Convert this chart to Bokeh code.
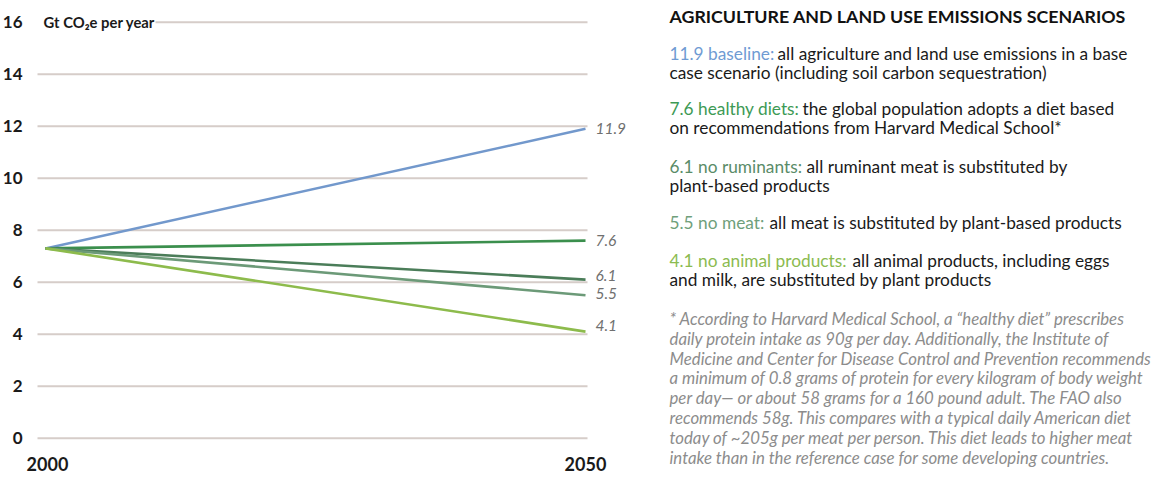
from bokeh.plotting import figure
from bokeh.models import Range1d
from bokeh.embed import file_html
from bokeh.resources import INLINE
from bokeh.core.properties import value

# ---------------- data ----------------
years = [2000, 2050]
start_value = 7.3
scenario_names = ["baseline", "healthy diets", "no ruminants", "no meat", "no animal products"]
end_values = [11.9, 7.6, 6.1, 5.5, 4.1]
line_colors = ["#7298cc", "#3b8f4d", "#4b7d59", "#6c9a78", "#8dbb4c"]
text_colors = ["#6f9bd3", "#3d9a55", "#5a8c68", "#6fa07b", "#8bbb50"]
descriptions = [
    ["all agriculture and land use emissions in a base",
     "case scenario (including soil carbon sequestration)"],
    ["the global population adopts a diet based",
     "on recommendations from Harvard Medical School*"],
    ["all ruminant meat is substituted by",
     "plant-based products"],
    ["all meat is substituted by plant-based products"],
    ["all animal products, including eggs",
     "and milk, are substituted by plant products"],
]
y_ticks = [0, 2, 4, 6, 8, 10, 12, 14, 16]
x_ticks = [2000, 2050]
y_title = "Gt CO\u2082e per year"
panel_title = "AGRICULTURE AND LAND USE EMISSIONS SCENARIOS"
footnote_lines = [
    "* According to Harvard Medical School, a \u201chealthy diet\u201d prescribes",
    "daily protein intake as 90g per day. Additionally, the Institute of",
    "Medicine and Center for Disease Control and Prevention recommends",
    "a minimum of 0.8 grams of protein for every kilogram of body weight",
    "per day\u2014 or about 58 grams for a 160 pound adult. The FAO also",
    "recommends 58g. This compares with a typical daily American diet",
    "today of ~205g per meat per person. This diet leads to higher meat",
    "intake than in the reference case for some developing countries.",
]

# ---------------- layout / style ----------------
FONT = "Lato"
W, H = 1154, 476
# chart scale: 2000 -> x 45, 10.8 px/yr ; 0 -> y 437.7, 26 px/unit
PX_YR, PX_UNIT = 10.8, 26.0
x0_pix, y0_pix = 45.0, 437.7
x_start = 2000 - x0_pix / PX_YR
x_end = 2000 + (W - x0_pix) / PX_YR
y_end = y0_pix / PX_UNIT
y_start = -(H - y0_pix) / PX_UNIT

grid_left = 2000 - 8 / PX_YR
grid_right = 2050 + 2 / PX_YR
title_gap_end = 2000 + 110 / PX_YR
label_offsets = [0, 0, -4, -2, -6]
entry_y = [53, 108, 166, 222, 260]
desc_x = [777, 802, 806, 769, 852]
line_gap = 18.5
foot_y0, foot_gap = 318, 19.8

p = figure(width=W, height=H,
           x_range=Range1d(x_start, x_end), y_range=Range1d(y_start, y_end),
           x_axis_type=None, y_axis_type=None,
           output_backend="svg", toolbar_location=None,
           min_border_left=0, min_border_right=0,
           min_border_top=0, min_border_bottom=0)
p.outline_line_color = None
p.background_fill_color = "white"
p.grid.visible = False
p.extra_x_ranges = {"px": Range1d(0, W)}
p.extra_y_ranges = {"py": Range1d(H, 0)}

# grid lines at the tick values
gx0 = [grid_left if t < y_ticks[-1] else title_gap_end for t in y_ticks]
p.segment(x0=gx0, y0=y_ticks, x1=[grid_right] * len(y_ticks), y1=y_ticks,
          line_color="#d6cdc9", line_width=2)

# tick labels
p.text(x=[x_ticks[0]] * len(y_ticks), y=y_ticks, text=[str(t) for t in y_ticks],
       x_offset=-23, text_align="right", text_baseline="middle",
       text_font=value(FONT), text_font_style="bold", text_font_size="17px",
       text_color="#1a1a1a")
p.text(x=x_ticks, y=[y_ticks[0]] * len(x_ticks), text=[str(t) for t in x_ticks],
       x_offset=[2, 0], y_offset=26, text_align="center", text_baseline="middle",
       text_font=value(FONT), text_font_style="bold", text_font_size="18px",
       text_color="#1a1a1a")
p.text(x=[x_ticks[0]], y=[y_ticks[-1]], text=[y_title], x_offset=-2,
       text_baseline="middle", text_font=value(FONT), text_font_style="bold",
       text_font_size="14.8px", text_color="#1a1a1a")

# scenario lines and end labels
for i, name in enumerate(scenario_names):
    p.line(years, [start_value, end_values[i]], line_color=line_colors[i],
           line_width=2.6)
p.text(x=[years[1]] * len(end_values), y=end_values,
       text=[f"{v}" for v in end_values], x_offset=10, y_offset=label_offsets,
       text_baseline="middle", text_font=value(FONT), text_font_style="italic",
       text_font_size="15.5px", text_color="#707070")

# ---------------- text panel (pixel coordinates) ----------------
kw = dict(x_range_name="px", y_range_name="py", text_baseline="middle",
          text_font=value(FONT))
p.text(x=[669], y=[15], text=[panel_title], text_font_style="bold",
       text_font_size="17.8px", text_color="#111111", **kw)

for i, name in enumerate(scenario_names):
    y0 = entry_y[i]
    p.text(x=[669], y=[y0], text=[f"{end_values[i]} {name}:"],
           text_font_size="17.3px", text_color=text_colors[i], **kw)
    p.text(x=[desc_x[i]], y=[y0], text=[descriptions[i][0]],
           text_font_size="17.3px", text_color="#1a1a1a", **kw)
    for k, extra in enumerate(descriptions[i][1:]):
        p.text(x=[669], y=[y0 + line_gap * (k + 1)], text=[extra],
               text_font_size="17.3px", text_color="#1a1a1a", **kw)

p.text(x=[669] * len(footnote_lines),
       y=[foot_y0 + foot_gap * k for k in range(len(footnote_lines))],
       text=footnote_lines, text_font_style="italic", text_font_size="16.8px",
       text_color="#8c8c8c", **kw)

open("out.html", "w").write(file_html(p, INLINE))
